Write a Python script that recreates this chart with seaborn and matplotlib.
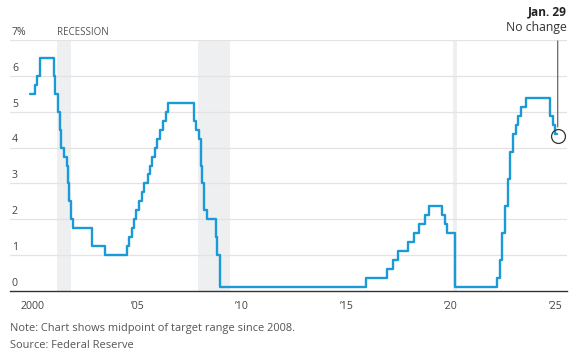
import pandas as pd
import matplotlib.pyplot as plt
import seaborn as sns
import matplotlib.transforms as mtransforms

# Fed funds target rate (midpoint of range since 2008), change dates
dates = ['1999-11-16', '2000-02-02', '2000-03-21', '2000-05-16',
         '2001-01-03', '2001-01-31', '2001-03-20', '2001-04-18', '2001-05-15',
         '2001-06-27', '2001-08-21', '2001-09-17', '2001-10-02', '2001-11-06',
         '2001-12-11', '2002-11-06', '2003-06-25',
         '2004-06-30', '2004-08-10', '2004-09-21', '2004-11-10', '2004-12-14',
         '2005-02-02', '2005-03-22', '2005-05-03', '2005-06-30', '2005-08-09',
         '2005-09-20', '2005-11-01', '2005-12-13',
         '2006-01-31', '2006-03-28', '2006-05-10', '2006-06-29',
         '2007-09-18', '2007-10-31', '2007-12-11',
         '2008-01-22', '2008-01-30', '2008-03-18', '2008-04-30', '2008-10-08',
         '2008-10-29', '2008-12-16',
         '2015-12-16', '2016-12-14', '2017-03-15', '2017-06-14', '2017-12-13',
         '2018-03-21', '2018-06-13', '2018-09-26', '2018-12-19',
         '2019-07-31', '2019-09-18', '2019-10-30',
         '2020-03-03', '2020-03-15',
         '2022-03-16', '2022-05-04', '2022-06-15', '2022-07-27', '2022-09-21',
         '2022-11-02', '2022-12-14',
         '2023-02-01', '2023-03-22', '2023-05-03', '2023-07-26',
         '2024-09-18', '2024-11-07', '2024-12-18', '2025-01-29']
rates = [5.5, 5.75, 6.0, 6.5,
         6.0, 5.5, 5.0, 4.5, 4.0,
         3.75, 3.5, 3.0, 2.5, 2.0,
         1.75, 1.25, 1.0,
         1.25, 1.5, 1.75, 2.0, 2.25,
         2.5, 2.75, 3.0, 3.25, 3.5,
         3.75, 4.0, 4.25,
         4.5, 4.75, 5.0, 5.25,
         4.75, 4.5, 4.25,
         3.5, 3.0, 2.25, 2.0, 1.5,
         1.0, 0.125,
         0.375, 0.625, 0.875, 1.125, 1.375,
         1.625, 1.875, 2.125, 2.375,
         2.125, 1.875, 1.625,
         1.125, 0.125,
         0.375, 0.875, 1.625, 2.375, 3.125,
         3.875, 4.375,
         4.625, 4.875, 5.125, 5.375,
         4.875, 4.625, 4.375, 4.375]

recession_starts = ['2001-03-01', '2007-12-01', '2020-02-01']
recession_ends = ['2001-10-31', '2009-05-31', '2020-04-15']

year_ticks = [2000, 2005, 2010, 2015, 2020, 2025]
year_labels = ['2000', '\u201905', '\u201910', '\u201915', '\u201920', '\u201925']
y_ticks = [0, 1, 2, 3, 4, 5, 6, 7]
y_labels = ['0', '1', '2', '3', '4', '5', '6', '7%']


def to_year(s):
    d = pd.to_datetime(pd.Series(s))
    return (d.dt.year + (d.dt.dayofyear - 1) / 365.25).values


sns.set_style('white')
plt.rcParams['font.family'] = ['Open Sans', 'DejaVu Sans']

df = pd.DataFrame({'year': to_year(dates), 'rate': rates})

fig = plt.figure(figsize=(5.82, 3.59), dpi=100)
ax = fig.add_axes([10 / 582, 1 - 291 / 359, 557 / 582, 251 / 359])

# Recession bands
for s, e in zip(to_year(recession_starts), to_year(recession_ends)):
    ax.axvspan(s, e, color='#eeeff1', lw=0, zorder=0)

# Gridlines
for y in y_ticks[1:]:
    ax.axhline(y, color='#e3e3e3', lw=0.9, zorder=1)

sns.lineplot(data=df, x='year', y='rate', drawstyle='steps-post',
             color='#1a9ad6', lw=1.7, ax=ax, zorder=3)

ax.set_xlim(1998.915, 2025.54)
ax.set_ylim(0, 7)
ax.set_xlabel('')
ax.set_ylabel('')

ax.set_xticks(year_ticks)
ax.set_xticklabels(year_labels)
ax.set_xticks(range(1999, 2026), minor=True)
ax.tick_params(axis='x', which='major', length=5, width=0.8, color='#555555',
               labelsize=7.6, labelcolor='#444444', pad=2, direction='out')
ax.tick_params(axis='x', which='minor', length=2.5, width=0.8, color='#555555')
ax.set_yticks([])

for sp in ['top', 'right', 'left']:
    ax.spines[sp].set_visible(False)
ax.spines['bottom'].set_color('#333333')
ax.spines['bottom'].set_linewidth(1.0)

# y labels sit inside, just above the gridlines
trans = mtransforms.blended_transform_factory(ax.transAxes, ax.transData)
for y, lab in zip(y_ticks, y_labels):
    ax.text(2 / 557, y + 0.06, lab, transform=trans, ha='left', va='bottom',
            fontsize=7.6, color='#444444')

ax.text(to_year(recession_starts)[0], 7.06, 'RECESSION', ha='left', va='bottom',
        fontsize=7, color='#555555')

# Latest decision annotation
last_x = df['year'].iloc[-1] + 0.02
last_y = df['rate'].iloc[-1] - 0.05
ax.plot(last_x, last_y, marker='o', ms=10, mfc='none', mec='#333333', mew=0.9,
        zorder=5, clip_on=False)
ax.annotate('', xy=(last_x, last_y + 0.17), xytext=(last_x, 7.05),
            arrowprops=dict(arrowstyle='-', color='#555555', lw=0.8),
            annotation_clip=False)
fig.text(567 / 582, 1 - 12 / 359, 'Jan. 29', ha='right', va='center',
         fontsize=8.6, fontweight='bold', color='#222222')
fig.text(567 / 582, 1 - 28 / 359, 'No change', ha='right', va='center',
         fontsize=8.8, color='#333333')

fig.text(10 / 582, 1 - 329 / 359, 'Note: Chart shows midpoint of target range since 2008.',
         ha='left', va='center', fontsize=7.9, color='#555555')
fig.text(10 / 582, 1 - 345 / 359, 'Source: Federal Reserve',
         ha='left', va='center', fontsize=7.9, color='#555555')

fig.savefig('out.png', dpi=100)
